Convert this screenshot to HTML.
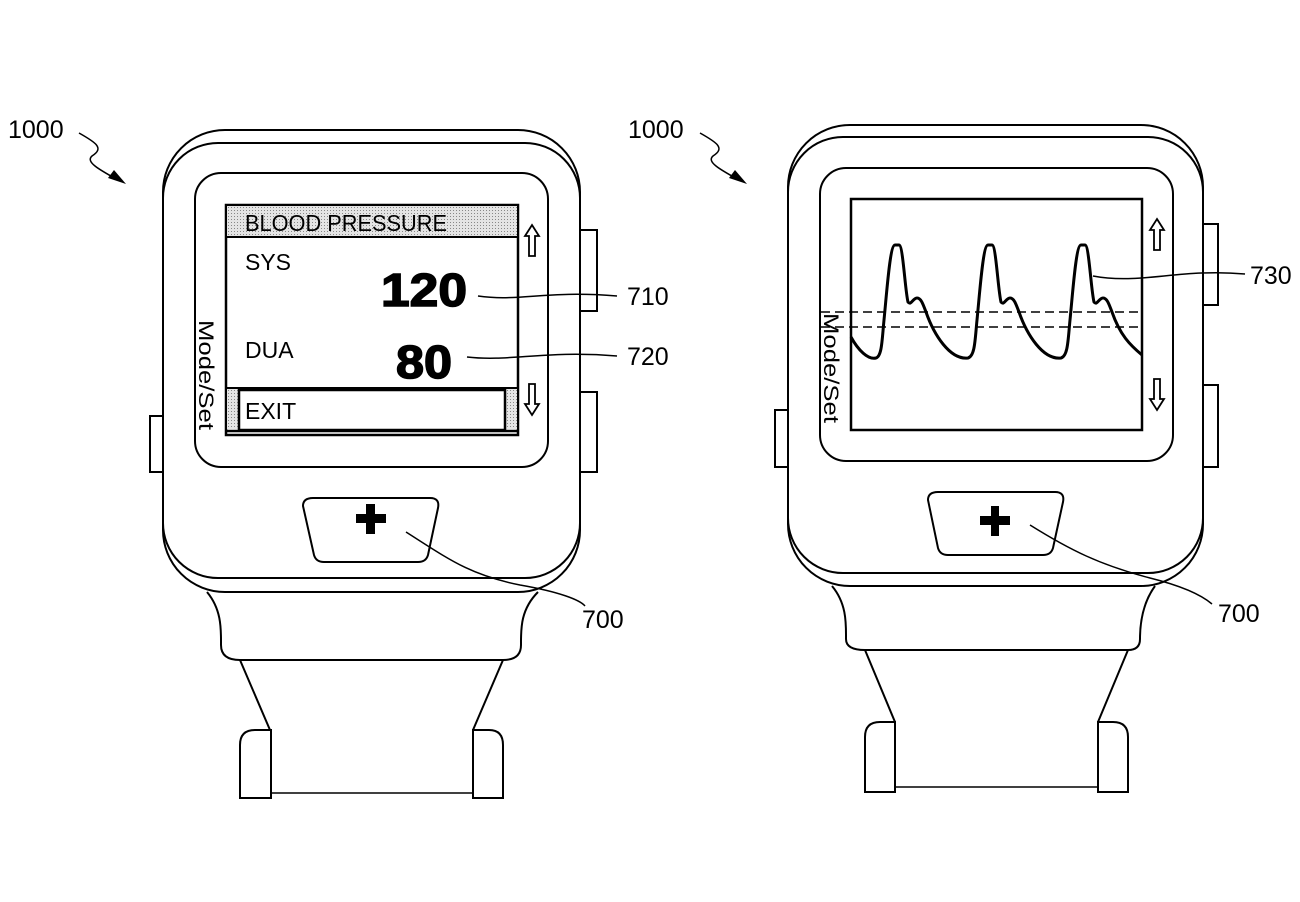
<!DOCTYPE html>
<html><head><meta charset="utf-8"><style>
html,body{margin:0;padding:0;background:#fff}
svg{display:block}
text{font-family:"Liberation Sans",sans-serif;fill:#000}
</style></head><body>
<svg width="1300" height="902" viewBox="0 0 1300 902" xmlns="http://www.w3.org/2000/svg">
<defs>
<pattern id="dots" width="3" height="3" patternUnits="userSpaceOnUse"><rect width="3" height="3" fill="#e4e4e4"/><rect width="1" height="1" fill="#888"/></pattern>
</defs>
<g fill="none" stroke="#000" stroke-width="2">
<!-- LEFT WATCH -->
<path d="M207,592 C222,610 221,630 221,645 Q221,660 240,660 L503,660 Q521,660 521,645 C521,630 520,610 538,592"/>
<path d="M240,660 L270,730 M503,660 L473,730"/>
<path d="M240,798 L240,745 Q240,730 255,730 L271,730 L271,798 Z"/>
<path d="M473,730 L489,730 Q503,730 503,745 L503,798 L473,798 Z"/>
<path d="M271,793 L473,793" stroke-width="1.5"/>
<rect x="163" y="130" width="417" height="462" rx="62"/>
<rect x="163" y="143" width="417" height="435" rx="55" fill="#fff"/>
<rect x="580" y="230" width="17" height="81"/>
<rect x="580" y="392" width="17" height="80"/>
<rect x="150" y="416" width="13" height="56"/>
<rect x="195" y="173" width="353" height="294" rx="26"/>
<rect x="226" y="205" width="292" height="230" stroke-width="2.5"/>
<rect x="227" y="206" width="290" height="31" fill="url(#dots)" stroke="none"/>
<line x1="226" y1="237" x2="518" y2="237"/>
<rect x="227" y="389" width="290" height="40" fill="url(#dots)" stroke="none"/>
<line x1="226" y1="388" x2="518" y2="388"/>
<rect x="239" y="390" width="266" height="40" fill="#fff" stroke-width="2.5"/>
<line x1="226" y1="431" x2="518" y2="431" stroke-width="2.5"/>
<path d="M303,506 Q303,498 313,498 L430,498 Q440,498 438,508 L428,555 Q426,562 418,562 L324,562 Q316,562 314,555 Z"/>
<path d="M532,225 L539,236 L535,236 L535,256 L529,256 L529,236 L525,236 Z" stroke-width="1.8"/>
<path d="M532,415 L539,404 L535,404 L535,384 L529,384 L529,404 L525,404 Z" stroke-width="1.8"/>
<path d="M478,296 C520,302 545,290 617,296" stroke-width="1.5"/>
<path d="M467,357 C510,362 545,350 617,356" stroke-width="1.5"/>
<path d="M406,532 C450,560 470,575 520,585 C560,592 580,600 585,606" stroke-width="1.5"/>
<path d="M79,133 C95,142 105,148 92,156 C85,162 100,170 118,180" stroke-width="1.5"/>

<!-- RIGHT WATCH -->
<path d="M832,586 C847,604 846,624 846,639 Q846,650 865,650 L1128,650 Q1140,650 1140,639 C1140,624 1142,604 1155,586"/>
<path d="M865,650 L895,722 M1128,650 L1098,722"/>
<path d="M865,792 L865,737 Q865,722 880,722 L895,722 L895,792 Z"/>
<path d="M1098,722 L1113,722 Q1128,722 1128,737 L1128,792 L1098,792 Z"/>
<path d="M895,787 L1098,787" stroke-width="1.5"/>
<rect x="788" y="125" width="415" height="461" rx="62"/>
<rect x="788" y="137" width="415" height="436" rx="55" fill="#fff"/>
<rect x="1203" y="224" width="15" height="81"/>
<rect x="1203" y="385" width="15" height="82"/>
<rect x="775" y="410" width="13" height="57"/>
<rect x="820" y="168" width="353" height="293" rx="26"/>
<rect x="851" y="199" width="291" height="231" stroke-width="2.5"/>
<path d="M928,500 Q928,492 938,492 L1055,492 Q1065,492 1063,502 L1053,548 Q1051,555 1043,555 L948,555 Q940,555 938,548 Z"/>
<path d="M1157,219 L1164,230 L1160,230 L1160,250 L1154,250 L1154,230 L1150,230 Z" stroke-width="1.8"/>
<path d="M1157,410 L1164,399 L1160,399 L1160,379 L1154,379 L1154,399 L1150,399 Z" stroke-width="1.8"/>
<path d="M821,312 L1142,312 M821,327 L1142,327" stroke-dasharray="9,5" stroke-width="1.5"/>
<path d="M851,337 C858,350 868,360 876,358 C882,356 882,340 884,320 C887,290 890,245 895,245 L899,245 C903,245 905,290 908,302 C911,306 913,298 917,298 C921,298 923,304 926,312 C934,335 950,360 968,358 C975,356 975,340 977,320 C980,290 983,245 988,245 L992,245 C996,245 998,290 1001,302 C1004,306 1006,298 1010,298 C1014,298 1016,304 1019,312 C1027,335 1043,360 1061,358 C1068,356 1068,340 1070,320 C1073,290 1076,245 1081,245 L1085,245 C1089,245 1091,290 1094,302 C1097,306 1099,298 1103,298 C1107,298 1109,304 1112,312 C1120,335 1130,345 1142,355" stroke-width="3"/>
<path d="M1093,276 C1140,285 1180,268 1245,274" stroke-width="1.5"/>
<path d="M1030,525 C1070,550 1100,565 1150,578 C1190,588 1205,598 1212,604" stroke-width="1.5"/>
<path d="M700,133 C716,142 726,148 713,156 C706,162 721,170 739,180" stroke-width="1.5"/>
</g>
<path d="M126,184 L108,178 L114,170 Z"/>
<path d="M747,184 L729,178 L735,170 Z"/>
<rect x="356" y="514" width="30" height="9"/><rect x="366" y="504" width="9" height="30"/>
<rect x="980" y="516" width="30" height="9"/><rect x="991" y="506" width="8" height="30"/>
<text x="8" y="138" font-size="25">1000</text>
<text x="628" y="138" font-size="25">1000</text>
<text x="245" y="231" font-size="23" textLength="202" lengthAdjust="spacingAndGlyphs">BLOOD PRESSURE</text>
<text x="245" y="270" font-size="23">SYS</text>
<text x="245" y="358" font-size="23">DUA</text>
<text x="245" y="419" font-size="23">EXIT</text>
<text x="381" y="306" font-size="46" font-weight="bold" stroke="#000" stroke-width="1.5" textLength="86" lengthAdjust="spacingAndGlyphs">120</text>
<text x="396" y="378" font-size="46" font-weight="bold" stroke="#000" stroke-width="1.5" textLength="56" lengthAdjust="spacingAndGlyphs">80</text>
<text x="627" y="305" font-size="25">710</text>
<text x="627" y="365" font-size="25">720</text>
<text x="582" y="628" font-size="25">700</text>
<text x="1250" y="284" font-size="25">730</text>
<text x="1218" y="622" font-size="25">700</text>
<text transform="translate(199,320) rotate(90)" font-size="21" textLength="110" lengthAdjust="spacingAndGlyphs">Mode/Set</text>
<text transform="translate(824,313) rotate(90)" font-size="21" textLength="110" lengthAdjust="spacingAndGlyphs">Mode/Set</text>
</svg>
</body></html>
